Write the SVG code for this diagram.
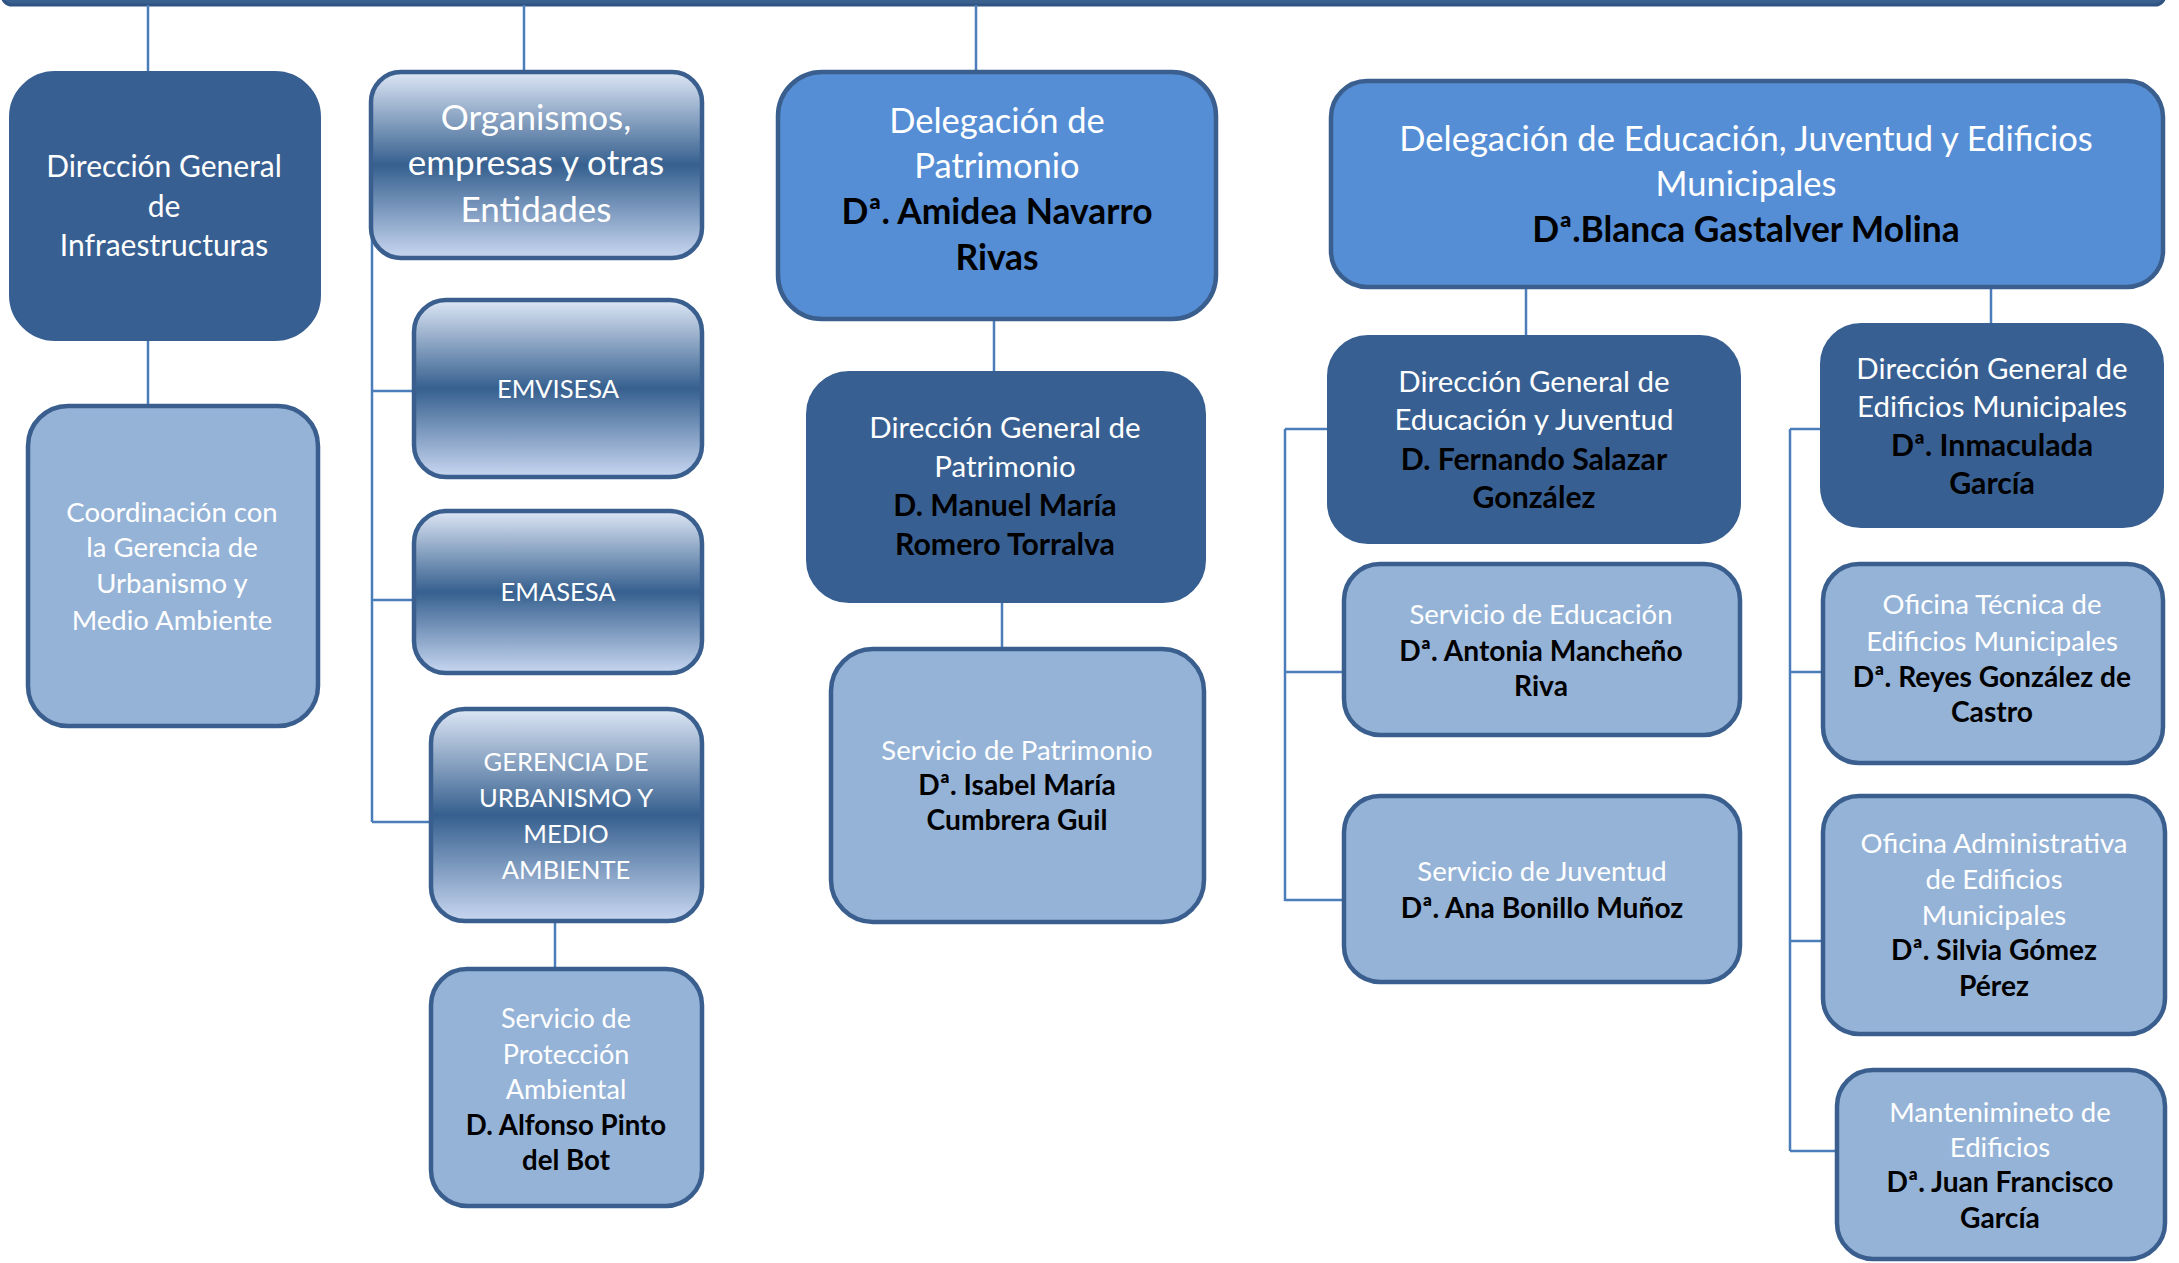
<svg xmlns="http://www.w3.org/2000/svg" width="2179" height="1263" viewBox="0 0 2179 1263">
<defs>
<linearGradient id="grad" x1="0" y1="0" x2="0" y2="1">
<stop offset="0" stop-color="#dde6f5"/>
<stop offset="0.5" stop-color="#36608f"/>
<stop offset="1" stop-color="#c8d7f1"/>
</linearGradient>
<style>
.dark{fill:#385f91;stroke:#385f91;stroke-width:2}
.mid{fill:#558ed5;stroke:#3a5f8e;stroke-width:4.5}
.light{fill:#95b3d7;stroke:#3a5f8e;stroke-width:4.5}
.grad{fill:url(#grad);stroke:#3a5f8e;stroke-width:4.5}
.conn{fill:none;stroke:#4a7dba;stroke-width:2.5}
text{font-family:Lato,"Liberation Sans",sans-serif;text-anchor:middle;fill:#ffffff}
.b{font-weight:bold;fill:#000000;font-size:1.025em}
</style>
</defs>
<rect x="2" y="-40" width="2163" height="45" rx="10" fill="#3a6090" stroke="#2f5483" stroke-width="3"/>
<g id="connectors">
<path class="conn" d="M148 5V72M148 339V406"/>
<path class="conn" d="M524 5V72"/>
<path class="conn" d="M372 232V822M372 391H414M372 600H414M372 822H431"/>
<path class="conn" d="M555 921V969"/>
<path class="conn" d="M976 5V72M994 318V372M1002 602V649"/>
<path class="conn" d="M1526 287V336M1991 287V323"/>
<path class="conn" d="M1285 429V901M1285 429H1329M1285 672H1344M1285 900H1344"/>
<path class="conn" d="M1790 429V1151M1790 429H1821M1790 672H1823M1790 941H1823M1790 1151H1837"/>
</g>
<g id="dg-infraestructuras">
<rect class="dark" x="10" y="72" width="310" height="268" rx="45"/>
<g font-size="30"><text x="164" y="177">Dirección General</text><text x="164" y="217">de</text><text x="164" y="256">Infraestructuras</text></g>
</g>
<g id="coordinacion">
<rect class="light" x="28" y="406" width="290" height="320" rx="40"/>
<g font-size="27.5"><text x="172" y="522">Coordinación con</text><text x="172" y="557">la Gerencia de</text><text x="172" y="593">Urbanismo y</text><text x="172" y="630">Medio Ambiente</text></g>
</g>
<g id="organismos">
<rect class="grad" x="371" y="72" width="331" height="186" rx="30"/>
<g font-size="35"><text x="536" y="130">Organismos,</text><text x="536" y="175">empresas y otras</text><text x="536" y="222">Entidades</text></g>
</g>
<g id="emvisesa">
<rect class="grad" x="414" y="300" width="288" height="177" rx="32"/>
<text x="558" y="398" font-size="25.5">EMVISESA</text>
</g>
<g id="emasesa">
<rect class="grad" x="414" y="511" width="288" height="162" rx="32"/>
<text x="558" y="601" font-size="25.5">EMASESA</text>
</g>
<g id="gerencia">
<rect class="grad" x="431" y="709" width="271" height="212" rx="34"/>
<g font-size="25.5"><text x="566" y="771">GERENCIA DE</text><text x="566" y="807">URBANISMO Y</text><text x="566" y="843">MEDIO</text><text x="566" y="879">AMBIENTE</text></g>
</g>
<g id="proteccion-ambiental">
<rect class="light" x="431" y="969" width="271" height="237" rx="36"/>
<g font-size="27"><text x="566" y="1028">Servicio de</text><text x="566" y="1064">Protección</text><text x="566" y="1099">Ambiental</text><text class="b" x="566" y="1135">D. Alfonso Pinto</text><text class="b" x="566" y="1170">del Bot</text></g>
</g>
<g id="delegacion-patrimonio">
<rect class="mid" x="778" y="72" width="438" height="247" rx="44"/>
<g font-size="34.5"><text x="997" y="133">Delegación de</text><text x="997" y="178">Patrimonio</text><text class="b" x="997" y="224">Dª. Amidea Navarro</text><text class="b" x="997" y="270">Rivas</text></g>
</g>
<g id="dg-patrimonio">
<rect class="dark" x="807" y="372" width="398" height="230" rx="42"/>
<g font-size="29.5"><text x="1005" y="438">Dirección General de</text><text x="1005" y="477">Patrimonio</text><text class="b" x="1005" y="516">D. Manuel María</text><text class="b" x="1005" y="555">Romero Torralva</text></g>
</g>
<g id="servicio-patrimonio">
<rect class="light" x="831" y="649" width="373" height="273" rx="42"/>
<g font-size="27.5"><text x="1017" y="760">Servicio de Patrimonio</text><text class="b" x="1017" y="795">Dª. Isabel María</text><text class="b" x="1017" y="830">Cumbrera Guil</text></g>
</g>
<g id="delegacion-educacion">
<rect class="mid" x="1331" y="81" width="832" height="206" rx="36"/>
<g font-size="34.5"><text x="1746" y="151">Delegación de Educación, Juventud y Edificios</text><text x="1746" y="196">Municipales</text><text class="b" x="1746" y="242">Dª.Blanca Gastalver Molina</text></g>
</g>
<g id="dg-educacion">
<rect class="dark" x="1328" y="336" width="412" height="207" rx="40"/>
<g font-size="29.5"><text x="1534" y="392">Dirección General de</text><text x="1534" y="430">Educación y Juventud</text><text class="b" x="1534" y="470">D. Fernando Salazar</text><text class="b" x="1534" y="508">González</text></g>
</g>
<g id="servicio-educacion">
<rect class="light" x="1344" y="564" width="396" height="171" rx="36"/>
<g font-size="27.5"><text x="1541" y="624">Servicio de Educación</text><text class="b" x="1541" y="661">Dª. Antonia Mancheño</text><text class="b" x="1541" y="696">Riva</text></g>
</g>
<g id="servicio-juventud">
<rect class="light" x="1344" y="796" width="396" height="186" rx="36"/>
<g font-size="27.5"><text x="1542" y="881">Servicio de Juventud</text><text class="b" x="1542" y="918">Dª. Ana Bonillo Muñoz</text></g>
</g>
<g id="dg-edificios">
<rect class="dark" x="1821" y="324" width="342" height="203" rx="40"/>
<g font-size="29.5"><text x="1992" y="379">Dirección General de</text><text x="1992" y="417">Edificios Municipales</text><text class="b" x="1992" y="456">Dª. Inmaculada</text><text class="b" x="1992" y="494">García</text></g>
</g>
<g id="oficina-tecnica">
<rect class="light" x="1823" y="564" width="340" height="199" rx="36"/>
<g font-size="27.5"><text x="1992" y="614">Oficina Técnica de</text><text x="1992" y="651">Edificios Municipales</text><text class="b" x="1992" y="687">Dª. Reyes González de</text><text class="b" x="1992" y="722">Castro</text></g>
</g>
<g id="oficina-administrativa">
<rect class="light" x="1823" y="796" width="342" height="238" rx="36"/>
<g font-size="27.5"><text x="1994" y="853">Oficina Administrativa</text><text x="1994" y="889">de Edificios</text><text x="1994" y="925">Municipales</text><text class="b" x="1994" y="960">Dª. Silvia Gómez</text><text class="b" x="1994" y="996">Pérez</text></g>
</g>
<g id="mantenimiento">
<rect class="light" x="1837" y="1070" width="328" height="189" rx="36"/>
<g font-size="27.5"><text x="2000" y="1122">Mantenimineto de</text><text x="2000" y="1157">Edificios</text><text class="b" x="2000" y="1192">Dª. Juan Francisco</text><text class="b" x="2000" y="1228">García</text></g>
</g>
</svg>
